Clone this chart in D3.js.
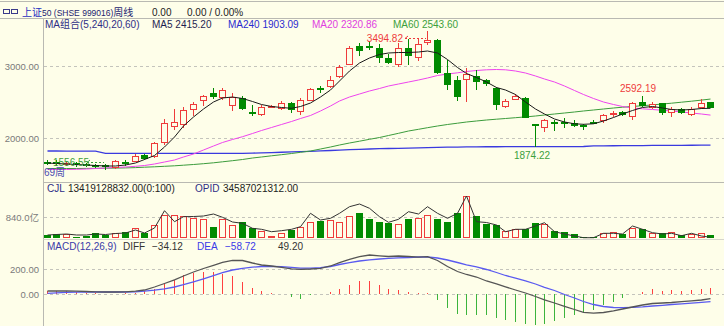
<!DOCTYPE html>
<html><head><meta charset="utf-8">
<script src="https://cdn.jsdelivr.net/npm/d3@7"></script>
<style>
html,body{margin:0;padding:0;background:#fefee9;}
svg{display:block;}
text{font-family:"Liberation Sans",Arial,"Noto Sans CJK SC",sans-serif;font-size:10px;}
</style></head><body>
<svg id="chart" width="724" height="326"></svg>
<script>
// Weekly candles, 上证50 (SHSE 999016)
const opens=[1673,1669,1635,1656,1642,1628,1628,1586,1672,1676,
 1767,1743,1933,2155,2183,2392,2523,2628,2558,2447,
 2558,2357,2322,2426,2412,2489,2357,2517,2697,2711,
 2850,3023,3274,3274,3253,3107,3023,3253,3107,3322,
 3357,2906,2815,2815,2857,2804,2697,2440,2537,2565,
 2197,2142,2225,2225,2207,2183,2229,2232,2332,2368,
 2290,2507,2415,2485,2346,2401,2322,2415,2499];
const highs=[1697,1697,1683,1669,1656,1642,1642,1704,1697,1781,
 1781,1947,2267,2405,2433,2507,2600,2697,2697,2628,
 2586,2461,2461,2468,2510,2503,2558,2704,2725,2864,
 3023,3274,3322,3350,3308,3169,3322,3371,3371,3494.82,
 3371,3086,2857,2975,2947,2822,2718,2544,2607,2579,
 2204,2260,2246,2274,2253,2204,2246,2343,2378,2382,
 2507,2592.19,2499,2493,2429,2415,2437,2540,2507];
const lows=[1621,1614,1614,1600,1600,1586,1556.55,1572,1614,1669,
 1697,1725,1906,2114,2142,2308,2447,2544,2530,2378,
 2392,2308,2308,2419,2392,2350,2322,2510,2628,2704,
 2836,3017,3142,3225,3044,3031,2989,3023,3072,3301,
 2892,2676,2517,2503,2669,2725,2392,2419,2524,2274,
 1874.22,2086,2100,2142,2155,2114,2197,2218,2294,2312,
 2253,2440,2401,2322,2290,2336,2312,2401,2415];
const closes=[1637,1642,1656,1628,1621,1607,1600,1683,1635,1746,
 1711,1929,2211,2225,2392,2475,2586,2572,2669,2572,
 2412,2336,2433,2447,2482,2392,2530,2683,2676,2815,
 2989,3246,3211,3260,3114,3044,3246,3135,3308,3357,
 2906,2732,2579,2885,2787,2753,2461,2517,2586,2281,
 2176,2246,2204,2208,2176,2151,2211,2322,2346,2322,
 2485,2447,2475,2346,2401,2346,2401,2493,2424];

// moving averages of the close
const ma5=[1655.5,1648.5,1641.6,1634.7,1627.7,1620.8,1613.8,1613.8,1627.7,1655.5,
 1704,1759.7,1877.7,2016.6,2169.4,2294.4,2405.5,2502.7,2558.3,2572.2,
 2551.4,2509.7,2468,2440.3,2426.4,2415.3,2440.3,2488.8,2572.2,2669.4,
 2794.4,2933.3,3044.4,3113.9,3162.5,3183.3,3190.2,3190.2,3197.2,3211.1,
 3183.3,3093,2981.9,2898.6,2843,2780.5,2704.1,2669.4,2606.9,2502.7,
 2405.5,2336.1,2266.6,2225,2200,2193,2200,2238.9,2287.5,2336.1,
 2384.7,2426.4,2440.3,2419.4,2398.6,2391.6,2398.6,2412.5,2415.2];
const ma20=[1565.2,1565.2,1565.2,1568,1572.2,1579.1,1586.1,1593,1600,1609.7,
 1620.8,1641.6,1669.4,1697.2,1738.9,1780.5,1836.1,1891.6,1940.3,1981.9,
 2020.8,2065.3,2106.9,2148.6,2190.3,2232,2273.6,2315.3,2377.8,2447.2,
 2516.6,2572.2,2613.8,2655.5,2690.2,2724.9,2752.7,2780.5,2808.3,2836.1,
 2870.8,2891.6,2908.3,2926.4,2940.3,2950,2954.1,2950,2933.3,2905.5,
 2863.9,2822.2,2780.5,2724.9,2662.4,2606.9,2551.4,2502.7,2468,2440.3,
 2419.4,2408.3,2398.6,2387.5,2377.8,2363.9,2350,2336.1,2320.86];
const ma60=[1579.1,1579.1,1579.1,1579.1,1580.5,1581.9,1583.3,1584.7,1587.4,1591.6,
 1597.2,1602.7,1609.7,1616.6,1625,1634.7,1645.8,1658.3,1672.2,1687.5,
 1704.1,1725,1738.9,1755.5,1770.8,1787.5,1804.2,1822.2,1850,1877.7,
 1905.5,1933.3,1958.3,1984.7,2009.7,2037.5,2068,2100,2123.6,2145.8,
 2169.4,2190.3,2208.3,2225,2238.9,2252.7,2263.9,2273.6,2284.7,2295.8,
 2308.3,2322.2,2336.1,2350,2363.9,2377.8,2391.6,2405.5,2419.4,2430.5,
 2440.3,2451.4,2462.5,2475,2486.1,2500,2513.9,2529.2,2543.6];
const ma240=[1822,1822,1821,1821,1820,1820,1789,1789,1789,1788,
 1788,1788,1788,1788,1788,1788,1788,1788,1788,1789,
 1789,1793,1797,1801,1805,1809,1813,1818,1824,1829,
 1835,1840,1845,1850,1854,1857,1860,1863,1867,1870,
 1872,1875,1877,1879,1880,1881,1881,1882,1882,1882,
 1883,1883,1883,1884,1884,1885,1893,1894,1895,1896,
 1897,1898,1899,1900,1900,1901,1902,1902.5,1903.09];

// turnover, 亿
const volumes=[132,160,172,68,92,200,132,228,240,400,
 228,532,932,932,908,800,772,468,760,532,
 668,400,308,92,228,332,468,668,692,732,
 668,892,1028,760,668,600,560,760,800,932,
 760,640,1000,1692,892,584,532,292,360,360,
 600,560,292,268,160,40,40,228,268,172,
 400,372,228,200,268,132,172,228,134.19];
const volLine=[132,152,172,132,132,172,152,192,212,332,
 212,412,1104,664,864,872,892,972,840,652,
 600,400,360,264,304,360,464,1000,732,800,
 1000,1264,1372,1200,864,640,760,1064,972,1264,
 1000,800,1000,1692,664,632,532,264,360,360,
 492,624,264,172,92,24,24,200,200,172,
 492,360,224,172,200,104,200,92,40];

// MACD(12,26,9)
const diffs=[26.4,26.4,26.4,24.8,22.4,20,18.4,18.4,20,24.8,
 34.4,58.4,86.4,116,146.4,178.4,206.4,232,256,272,
 270.4,250.4,234.4,226.4,216,204,200,202.4,208,226.4,
 252.8,280,300.8,314.4,308,302.4,306.4,302.4,296.8,300.8,
 270.4,222.4,182.4,158.4,138.4,106.4,84,60,34.4,10.4,
 -17.6,-44,-69.6,-96,-121.6,-144,-151.2,-145.6,-132,-117.6,
 -101.6,-85.6,-73.6,-69.6,-65.6,-58.4,-52,-45.6,-34.12];
const deas=[8,12,15.2,17.6,18.4,18.4,18.4,18.4,18.4,20,
 24.8,32.8,44,58.4,76.8,100,124,148.8,172.8,194.4,
 208,216.8,222.4,224,221.6,215.2,208.8,208.8,212.8,222.4,
 238.4,253.6,266.4,275.2,282.4,288,292,294.4,298.4,298.4,
 290.4,274.4,254.4,236,220,198.4,174.4,150.4,128.8,108,
 82.4,56,30.4,-1.6,-29.6,-57.6,-81.6,-97.6,-105.6,-107.2,
 -104,-100,-93.6,-88,-81.5,-75.9,-70.5,-64.9,-58.72];
const macdBars=[26,26,24,20,12,8,4,4,8,14,
 24,40,86,118,152,170,178,178,166,144,
 98,54,26,10,4,-22,-34,-4,4,18,
 46,78,106,106,78,46,38,16,10,10,
 -48,-106,-160,-168,-168,-168,-192,-208,-222,-234,
 -248,-234,-214,-192,-168,-142,-122,-88,-62,-26,
 2,18,40,24,32,24,32,46,49.2];

const priceTicks=[3000,2000], priceTickLabels=["3000.00","2000.00"];
const volTicks=[840], volTickLabels=["840.0亿"];
const macdTicks=[200,0], macdTickLabels=["200.00","0.00"];

const BG="#fefee9", RED="#ee3b3b", GREEN="#008a00", HGREEN="#3cb43c", FRAME="#b9b9b2", GRID="#c4c4bc", AXT="#7a7a7a";

const svg=d3.select("#chart");
const n=closes.length;
svg.append("rect").attr("width",724).attr("height",326).attr("fill",BG);

const x=d3.scaleBand().domain(d3.range(n)).range([41.8,715.2]);
const cx=i=>Math.round(x(i)+x.bandwidth()/2);
const yP=d3.scaleLinear().domain([2000,3000]).range([138.2,66.2]);
const yV=d3.scaleLinear().domain([0,840]).range([238.3,217.3]);
const yM=d3.scaleLinear().domain([0,200]).range([294.3,269.3]);

// clip regions for the three panes
const defs=svg.append("defs");
[["cp",44,19,680,163],["cv",44,183,680,56],["cm",44,240,680,86]].forEach(([id,a,b,w,h])=>{
  defs.append("clipPath").attr("id",id).append("rect").attr("x",a).attr("y",b).attr("width",w).attr("height",h);
});

// frame
const frame=svg.append("g").attr("stroke",FRAME).attr("stroke-width",1);
frame.append("line").attr("x1",0).attr("x2",724).attr("y1",1.5).attr("y2",1.5);
frame.append("line").attr("x1",0).attr("x2",724).attr("y1",18.5).attr("y2",18.5);
frame.append("line").attr("x1",43.5).attr("x2",43.5).attr("y1",18.5).attr("y2",326);
frame.append("line").attr("x1",43.5).attr("x2",724).attr("y1",182.5).attr("y2",182.5);
frame.append("line").attr("x1",43.5).attr("x2",724).attr("y1",239.5).attr("y2",239.5).attr("stroke","#d6d6cc");

// grid lines and axis labels
function grid(scale,ticks,labels){
  svg.append("g").selectAll("line").data(ticks).join("line")
    .attr("x1",44).attr("x2",724)
    .attr("y1",d=>Math.round(scale(d))+0.5).attr("y2",d=>Math.round(scale(d))+0.5)
    .attr("stroke",GRID).attr("stroke-dasharray","3,3");
  const ax=d3.axisLeft(scale).tickValues(ticks).tickSize(0).tickPadding(0)
    .tickFormat((d,i)=>labels[i]);
  const g=svg.append("g").attr("transform","translate(39,0)").call(ax);
  g.select(".domain").remove();
  g.selectAll("text").attr("fill",AXT).style("font-size","9.5px")
    .style("font-family",'"Liberation Sans",Arial,"Noto Sans CJK SC",sans-serif');
}
grid(yP,priceTicks,priceTickLabels);
grid(yV,volTicks,volTickLabels);
grid(yM,macdTicks,macdTickLabels);

// ---- price pane ----
const gp=svg.append("g").attr("clip-path","url(#cp)");
const lineP=arr=>d3.line().x((d,i)=>cx(i)+0.5).y(d=>yP(d))(arr);
[[ma240,"#3a3adf",1.3],[ma60,"#3c9c3c",1],[ma20,"#ee44ee",1]].forEach(([a,c,w])=>{
  gp.append("path").attr("d",lineP(a)).attr("fill","none").attr("stroke",c).attr("stroke-width",w);
});

const idx=d3.range(n);
const candles=gp.append("g").selectAll("g").data(idx).join("g");
candles.each(function(i){
  const g=d3.select(this);
  const up=closes[i]>=opens[i];
  const c=cx(i);
  const yH=Math.round(yP(highs[i])), yL=Math.round(yP(lows[i]));
  const yT=Math.round(yP(Math.max(opens[i],closes[i])));
  let yB=Math.round(yP(Math.min(opens[i],closes[i])));
  if(yB-yT<2) yB=yT+2;
  if(up){
    g.append("line").attr("x1",c+0.5).attr("x2",c+0.5).attr("y1",yH).attr("y2",yT).attr("stroke",RED);
    g.append("line").attr("x1",c+0.5).attr("x2",c+0.5).attr("y1",yB-1).attr("y2",yL).attr("stroke",RED);
    g.append("rect").attr("x",c-2.5).attr("y",yT+0.5).attr("width",6).attr("height",yB-yT-1)
      .attr("fill",BG).attr("stroke",RED);
  } else {
    g.append("line").attr("x1",c+0.5).attr("x2",c+0.5).attr("y1",yH).attr("y2",yL).attr("stroke",GREEN);
    g.append("rect").attr("x",c-3).attr("y",yT).attr("width",7).attr("height",yB-yT).attr("fill",GREEN);
  }
});
gp.append("path").attr("d",lineP(ma5)).attr("fill","none").attr("stroke","#1a1a1a").attr("stroke-width",1);

// extreme price markers
const iMax=d3.maxIndex(highs), iMin=d3.minIndex(lows);
const mk=svg.append("g");
const yMaxMark=Math.round(yP(highs[iMax]))+7.5;
mk.append("text").attr("x",cx(iMax)-24).attr("y",yMaxMark+3.5).attr("text-anchor","end")
  .attr("fill",RED).text(d3.format(".2f")(highs[iMax]));
mk.append("path").attr("d",`M${cx(iMax)-19},${yMaxMark-2.5}L${cx(iMax)-22},${yMaxMark}`)
  .attr("stroke",RED).attr("fill","none");
mk.append("line").attr("x1",cx(iMax)-22).attr("x2",cx(iMax)-1).attr("y1",yMaxMark).attr("y2",yMaxMark)
  .attr("stroke",RED).attr("stroke-dasharray","2,2");
const yMinMark=Math.round(yP(lows[iMin]))-7.5;
mk.append("text").attr("x",cx(iMin)-52).attr("y",yMinMark+3.5)
  .attr("fill","#3ca03c").text(d3.format(".2f")(lows[iMin]));
mk.append("path").attr("d",`M${cx(iMin)-15},${yMinMark-2.5}L${cx(iMin)-18},${yMinMark}`)
  .attr("stroke","#3ca03c").attr("fill","none");
mk.append("line").attr("x1",cx(iMin)-18).attr("x2",cx(iMin)-1).attr("y1",yMinMark).attr("y2",yMinMark)
  .attr("stroke","#3ca03c").attr("stroke-dasharray","2,2");
// local high / low labels
const iHi2=61, iLo2=50;
mk.append("text").attr("x",cx(iHi2)-4).attr("y",yP(highs[iHi2])-4).attr("text-anchor","middle")
  .attr("fill",RED).text(d3.format(".2f")(highs[iHi2]));
mk.append("text").attr("x",cx(iLo2)-3).attr("y",yP(lows[iLo2])+11.5).attr("text-anchor","middle")
  .attr("fill","#3ca03c").text(d3.format(".2f")(lows[iLo2]));
svg.append("text").attr("x",44).attr("y",175.5).attr("fill","#4a4ab0").text("69周");

// ---- volume pane ----
const gv=svg.append("g").attr("clip-path","url(#cv)");
const base=Math.round(yV(0));
gv.append("g").selectAll("g").data(idx).join("g").each(function(i){
  const g=d3.select(this), c=cx(i), yT=Math.round(yV(volumes[i]));
  const up=closes[i]>=opens[i];
  if(up){
    g.append("rect").attr("x",c-2.5).attr("y",yT+0.5).attr("width",6).attr("height",Math.max(base-yT-1,0))
      .attr("fill",BG).attr("stroke",RED);
  } else {
    g.append("rect").attr("x",c-3).attr("y",yT).attr("width",7).attr("height",base-yT).attr("fill",GREEN);
  }
});
gv.append("path").attr("d",d3.line().x((d,i)=>cx(i)+0.5).y(d=>yV(d))(volLine))
  .attr("fill","none").attr("stroke","#333").attr("stroke-width",1);

// ---- MACD pane ----
const gm=svg.append("g").attr("clip-path","url(#cm)");
const zero=Math.round(yM(0));
gm.append("g").selectAll("line").data(idx).join("line")
  .attr("x1",i=>cx(i)+0.5).attr("x2",i=>cx(i)+0.5)
  .attr("y1",zero).attr("y2",i=>Math.round(yM(macdBars[i])))
  .attr("stroke",i=>macdBars[i]>=0?"#ff4040":HGREEN);
const lineM=arr=>d3.line().x((d,i)=>cx(i)+0.5).y(d=>yM(d))(arr);
gm.append("path").attr("d",lineM(deas)).attr("fill","none").attr("stroke","#5a5af0").attr("stroke-width",1.3);
gm.append("path").attr("d",lineM(diffs)).attr("fill","none").attr("stroke","#555").attr("stroke-width",1.3);

// ---- header texts ----
const hd=svg.append("g");
hd.append("rect").attr("x",3.5).attr("y",9.5).attr("width",6).attr("height",4).attr("fill","none").attr("stroke","#3a3a8a");
hd.append("rect").attr("x",11.5).attr("y",9.5).attr("width",6).attr("height",4).attr("fill","none").attr("stroke","#3a3a8a");
const t1=hd.append("text").attr("x",22).attr("y",15.5);
t1.append("tspan").attr("fill","#1e2ec0").text("上证");
t1.append("tspan").attr("fill","#23236e").style("font-size","8.5px").text("50 (SHSE 999016)");
t1.append("tspan").attr("fill","#23236e").text("周线");
hd.append("text").attr("x",152).attr("y",15.5).attr("fill","#222").text("0.00");
hd.append("text").attr("x",187).attr("y",15.5).attr("fill","#222").text("0.00 / 0.00%");

const legend=[
  [45,"MA组合(5,240,20,60)","#2e2e86"],
  [152,"MA5 "+d3.format(".2f")(ma5[n-1]),"#1e1e50"],
  [228,"MA240 "+d3.format(".2f")(ma240[n-1]),"#2a2ad0"],
  [312,"MA20 "+d3.format(".2f")(ma20[n-1]),"#e040e0"],
  [393,"MA60 "+d3.format(".2f")(ma60[n-1]),"#3ca03c"]];
hd.selectAll("text.lg").data(legend).join("text").attr("class","lg")
  .attr("x",d=>d[0]).attr("y",28).attr("fill",d=>d[2]).text(d=>d[1]);

const vl=[[47,"CJL","#2e2e86"],[68,"13419128832.00(0:100)","#222"],[195,"OPID","#2e2e86"],[223,"34587021312.00","#222"]];
hd.selectAll("text.vl").data(vl).join("text").attr("class","vl")
  .attr("x",d=>d[0]).attr("y",192).attr("fill",d=>d[2]).text(d=>d[1]);

const ml=[[47,"MACD(12,26,9)","#3a3aa8"],[123,"DIFF","#333"],[152,d3.format(".2f")(diffs[n-1]),"#333"],
  [197,"DEA","#3a3ae8"],[225,d3.format(".2f")(deas[n-1]),"#3a3ae8"],[278,d3.format(".2f")(macdBars[n-1]),"#333"]];
hd.selectAll("text.ml").data(ml).join("text").attr("class","ml")
  .attr("x",d=>d[0]).attr("y",250).attr("fill",d=>d[2]).text(d=>d[1]);
</script></body></html>
